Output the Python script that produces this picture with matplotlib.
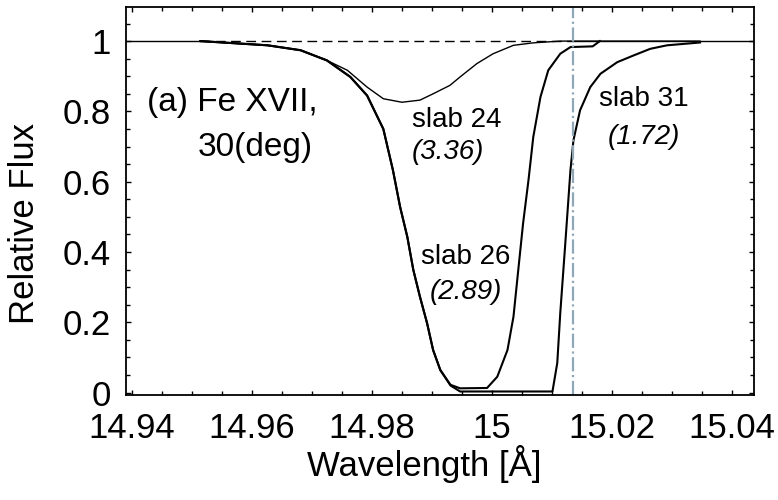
import matplotlib
matplotlib.use("Agg")
import matplotlib.pyplot as plt
from matplotlib.ticker import MultipleLocator, FixedLocator

plt.rcParams['font.family'] = ['Liberation Sans', 'DejaVu Sans']

# ---- data ----
wl24 = [14.9514, 14.9626, 14.9681, 14.9725, 14.9759, 14.9792, 14.9819, 14.9850,
        14.9880, 14.9902, 14.9930, 14.9947, 14.9975, 15.0002, 15.0036, 15.0069,
        15.0114, 15.0347]
flux24 = [1.0, 0.988, 0.974, 0.945, 0.917, 0.869, 0.836, 0.826,
          0.832, 0.850, 0.874, 0.898, 0.936, 0.964, 0.988, 0.995,
          1.0, 1.0]

wl26 = [14.9514, 14.9626, 14.9681, 14.9725, 14.9764, 14.9792, 14.9819, 14.9835,
        14.9847, 14.9859, 14.9869, 14.9880, 14.9892, 14.9902, 14.9914, 14.9931,
        14.9947, 14.9992, 15.0009, 15.0026, 15.0036, 15.0044, 15.0052, 15.0061,
        15.0069, 15.0081, 15.0094, 15.0114, 15.0131, 15.0168, 15.0180]
flux26 = [1.0, 0.988, 0.974, 0.945, 0.898, 0.845, 0.750, 0.633,
          0.528, 0.443, 0.349, 0.273, 0.197, 0.121, 0.064, 0.022,
          0.012, 0.013, 0.045, 0.121, 0.216, 0.349, 0.481, 0.604,
          0.727, 0.841, 0.917, 0.964, 0.983, 0.985, 1.0]

wl31 = [14.9514, 14.9626, 14.9681, 14.9725, 14.9764, 14.9792, 14.9819, 14.9835,
        14.9847, 14.9859, 14.9869, 14.9880, 14.9892, 14.9902, 14.9914, 14.9931,
        14.9947, 15.0101, 15.0109, 15.0114, 15.0122, 15.0131, 15.0136, 15.0147,
        15.0164, 15.0181, 15.0209, 15.0236, 15.0264, 15.0292, 15.0347]
flux31 = [1.0, 0.988, 0.974, 0.945, 0.898, 0.845, 0.750, 0.633,
          0.528, 0.443, 0.349, 0.273, 0.197, 0.121, 0.064, 0.020,
          0.003, 0.003, 0.084, 0.226, 0.415, 0.633, 0.718, 0.803,
          0.869, 0.907, 0.940, 0.959, 0.978, 0.988, 0.996]

line_center = 15.0136
continuum_start = 14.9514

x_ticks = [14.94, 14.96, 14.98, 15.0, 15.02, 15.04]
x_ticklabels = ["14.94", "14.96", "14.98", "15", "15.02", "15.04"]
y_ticks = [0, 0.2, 0.4, 0.6, 0.8, 1.0]
y_ticklabels = ["0", "0.2", "0.4", "0.6", "0.8", "1"]

panel_title = ["(a) Fe XVII,", "30(deg)"]
slab_names = ["slab 24", "slab 26", "slab 31"]
slab_values = ["(3.36)", "(2.89)", "(1.72)"]

xmin, xmax = 14.939, 15.0437
ymin, ymax = -0.007, 1.097

# ---- figure ----
fig = plt.figure(figsize=(7.78, 5.0), dpi=100)
ax = fig.add_axes([126/778, 105/500, 628/778, 388/500])

# continuum at unity
ax.plot([xmin, continuum_start], [1, 1], color='black', lw=1.0)
ax.plot([continuum_start, line_center], [1, 1], color='black', lw=1.0,
        dashes=(7, 4))
ax.plot([line_center, xmax], [1, 1], color='black', lw=1.0)

ax.plot(wl24, flux24, color='black', lw=1.0)
ax.plot(wl26, flux26, color='black', lw=1.5)
ax.plot(wl31, flux31, color='black', lw=1.5)

ax.axvline(line_center, color='#8fa7b7', lw=1.6, ls='-.')

ax.set_xlim(xmin, xmax)
ax.set_ylim(ymin, ymax)

ax.xaxis.set_major_locator(FixedLocator(x_ticks))
ax.set_xticklabels(x_ticklabels)
ax.yaxis.set_major_locator(FixedLocator(y_ticks))
ax.set_yticklabels(y_ticklabels)
ax.xaxis.set_minor_locator(MultipleLocator(0.005))
ax.yaxis.set_minor_locator(MultipleLocator(0.05))

ax.tick_params(which='both', direction='in', top=True, right=True,
               width=1.0, labelsize=25)
ax.tick_params(which='major', length=3.5)
ax.tick_params(which='minor', length=3.0)
ax.tick_params(axis='x', pad=12)
ax.tick_params(axis='y', pad=11)
for s in ax.spines.values():
    s.set_linewidth(1.3)

ax.set_xlabel("Wavelength [Å]", fontsize=25)
ax.set_ylabel("Relative Flux", fontsize=25)
ax.yaxis.set_label_coords(-0.135, 0.443)
ax.xaxis.set_label_coords(0.475, -0.13)

ax.text(14.9567, 0.826, panel_title[0], fontsize=24, ha='center', va='center')
ax.text(14.9606, 0.698, panel_title[1], fontsize=24, ha='center', va='center')

ax.text(14.9867, 0.775, slab_names[0], fontsize=20, ha='left', va='center')
ax.text(14.9867, 0.684, slab_values[0], fontsize=20, ha='left', va='center', style='italic')
ax.text(14.9956, 0.386, slab_names[1], fontsize=20, ha='center', va='center')
ax.text(14.9956, 0.286, slab_values[1], fontsize=20, ha='center', va='center', style='italic')
ax.text(15.0253, 0.834, slab_names[2], fontsize=20, ha='center', va='center')
ax.text(15.0253, 0.726, slab_values[2], fontsize=20, ha='center', va='center', style='italic')

fig.savefig("out.png", dpi=100)
